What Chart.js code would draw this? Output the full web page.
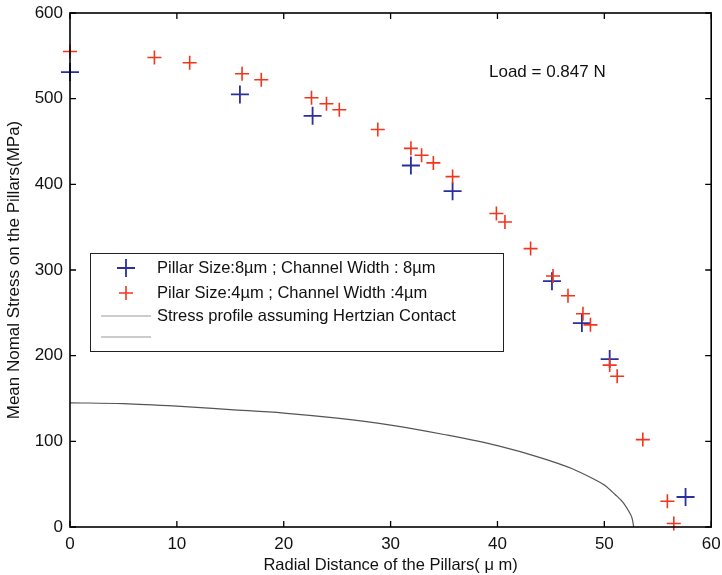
<!DOCTYPE html>
<html>
<head>
<meta charset="utf-8">
<script src="https://cdn.jsdelivr.net/npm/chart.js@4/dist/chart.umd.min.js"></script>
<style>
  html, body { margin: 0; padding: 0; background: #fff; }
  #wrap { width: 722px; height: 575px; }
</style>
</head>
<body>
<div id="wrap"><canvas id="chart" width="722" height="575"></canvas></div>
<script>
// values (x in um, y in MPa)
const bigX = [0, 15.9, 22.7, 31.9, 35.8, 45.1, 47.9, 50.5, 57.6];
const bigY = [531, 505, 480, 422, 392, 287, 238, 196, 35];

const smallX = [0, 7.9, 11.2, 16.1, 17.9, 22.6, 24.0, 25.2, 28.8, 31.9, 32.9, 34.0, 35.8,
  39.9, 40.7, 43.1, 45.2, 46.6, 48.0, 48.7, 50.5, 51.2, 53.6, 55.9, 56.5];
const smallY = [555, 548, 542, 529, 522, 501, 494, 487, 464, 442, 434, 425, 409,
  366, 356, 325, 293, 270, 249, 236, 189, 176, 102, 30, 4];

// hertzian curve, points
const hertzX = [0, 5, 10, 15, 20, 25, 30, 35, 40, 44, 47, 49, 50, 51, 51.8, 52.3, 52.6, 52.75];
const hertzY = [145, 144, 141, 137, 133, 127, 119, 108, 95, 81, 68, 56, 49, 38, 28, 18, 10, 0];

const labels = [
  'Pillar Size:8\u00b5m ; Channel Width : 8\u00b5m',
  'Pilar Size:4\u00b5m ; Channel Width :4\u00b5m',
  'Stress profile assuming Hertzian Contact',
  ''
];
const xTicks = [0, 10, 20, 30, 40, 50, 60];
const yTicks = [0, 100, 200, 300, 400, 500, 600];

const FONT = '"Liberation Sans", Arial, sans-serif';

function toPts(xs, ys) {
  return xs.map((x, i) => ({ x: x, y: ys[i] }));
}

//Frame round the plot, with matlab style ticks pointing in
const framePlugin = {
  id: 'frame',
  afterDraw(chart) {
    const ctx = chart.ctx;
    const a = chart.chartArea;
    const xs = chart.scales.x;
    const ys = chart.scales.y;
    ctx.save();
    ctx.strokeStyle = '#000';
    ctx.lineWidth = 1.6;
    ctx.strokeRect(a.left, a.top, a.right - a.left, a.bottom - a.top);
    ctx.lineWidth = 1.3;
    ctx.beginPath();
    xTicks.forEach((v) => {
      const px = xs.getPixelForValue(v);
      ctx.moveTo(px, a.bottom); ctx.lineTo(px, a.bottom - 6);
      ctx.moveTo(px, a.top); ctx.lineTo(px, a.top + 6);
    });
    yTicks.forEach((v) => {
      const py = ys.getPixelForValue(v);
      ctx.moveTo(a.left, py); ctx.lineTo(a.left + 6, py);
      ctx.moveTo(a.right, py); ctx.lineTo(a.right - 6, py);
    });
    ctx.stroke();

    // annotation
    ctx.fillStyle = '#111';
    ctx.font = '17px ' + FONT;
    ctx.textBaseline = 'middle';
    ctx.textAlign = 'left';
    ctx.fillText('Load = 0.847 N', 489, 72);
    ctx.restore();
  }
};

//Legend box drawn inside the plot
const legendPlugin = {
  id: 'boxLegend',
  afterDatasetsDraw(chart) {
    const ctx = chart.ctx;
    const box = { left: 90, top: 253, right: 503, bottom: 351 };
    const rows = [268, 293, 316, 337];
    ctx.save();
    ctx.fillStyle = '#fff';
    ctx.fillRect(box.left, box.top, box.right - box.left, box.bottom - box.top);
    ctx.strokeStyle = '#222';
    ctx.lineWidth = 1;
    ctx.strokeRect(box.left + 0.5, box.top + 0.5, box.right - box.left, box.bottom - box.top);
    chart.data.datasets.forEach((ds, i) => {
      const y = rows[i];
      ctx.strokeStyle = ds.borderColor;
      if (ds.showLine === false) {
        const r = ds.pointRadius;
        ctx.lineWidth = ds.borderWidth;
        ctx.beginPath();
        ctx.moveTo(126 - r, y); ctx.lineTo(126 + r, y);
        ctx.moveTo(126, y - r); ctx.lineTo(126, y + r);
        ctx.stroke();
      } else {
        ctx.strokeStyle = '#999';
        ctx.lineWidth = 1.2;
        ctx.beginPath();
        ctx.moveTo(101, y); ctx.lineTo(151, y);
        ctx.stroke();
      }
      ctx.fillStyle = '#111';
      ctx.font = '16.5px ' + FONT;
      ctx.textBaseline = 'middle';
      ctx.textAlign = 'left';
      ctx.fillText(ds.label, 157, y);
    });
    ctx.restore();
  }
};

const ctx = document.getElementById('chart');
new Chart(ctx, {
  type: 'scatter',
  data: {
    datasets: [
      {
        label: labels[0],
        data: toPts(bigX, bigY),
        showLine: false,
        pointStyle: 'cross',
        pointRadius: 9,
        borderWidth: 1.8,
        borderColor: '#2b2f9e',
        backgroundColor: '#2b2f9e',
        clip: false,
        order: 2
      },
      {
        label: labels[1],
        data: toPts(smallX, smallY),
        showLine: false,
        pointStyle: 'cross',
        pointRadius: 7,
        borderWidth: 1.6,
        borderColor: '#f0361c',
        backgroundColor: '#f0361c',
        clip: false,
        order: 1
      },
      {
        label: labels[2],
        data: toPts(hertzX, hertzY),
        showLine: true,
        pointRadius: 0,
        borderWidth: 1.2,
        borderColor: '#555',
        cubicInterpolationMode: 'monotone',
        order: 3
      },
      {
        label: labels[3],
        data: [],
        showLine: true,
        pointRadius: 0,
        borderWidth: 1.2,
        borderColor: '#999'
      }
    ]
  },
  options: {
    responsive: false,
    animation: false,
    layout: { padding: { top: 13, right: 10, left: 0, bottom: 0 } },
    plugins: {
      legend: { display: false },
      tooltip: { enabled: false }
    },
    scales: {
      x: {
        type: 'linear',
        min: 0,
        max: 60,
        afterFit: (s) => { s.height = 48; s.paddingRight = 0; s.paddingLeft = 0; },
        afterBuildTicks: (s) => { s.ticks = xTicks.map((v) => ({ value: v })); },
        grid: { display: false, drawTicks: false },
        border: { display: false },
        ticks: { color: '#111', padding: 7, font: { family: FONT, size: 17 } },
        title: {
          display: true,
          text: 'Radial Distance of the Pillars( \u03bc m)',
          color: '#111',
          font: { family: FONT, size: 16.5 },
          padding: { top: 2, bottom: 0 }
        }
      },
      y: {
        type: 'linear',
        min: 0,
        max: 600,
        afterFit: (s) => { s.width = 70; s.paddingTop = 0; s.paddingBottom = 0; },
        afterBuildTicks: (s) => { s.ticks = yTicks.map((v) => ({ value: v })); },
        grid: { display: false, drawTicks: false },
        border: { display: false },
        ticks: { color: '#111', padding: 7, font: { family: FONT, size: 17 } },
        title: {
          display: true,
          text: 'Mean Nomal Stress on the Pillars(MPa)',
          color: '#111',
          font: { family: FONT, size: 17 },
          padding: { top: 4, bottom: 0 }
        }
      }
    }
  },
  plugins: [framePlugin, legendPlugin]
});
</script>
</body>
</html>
